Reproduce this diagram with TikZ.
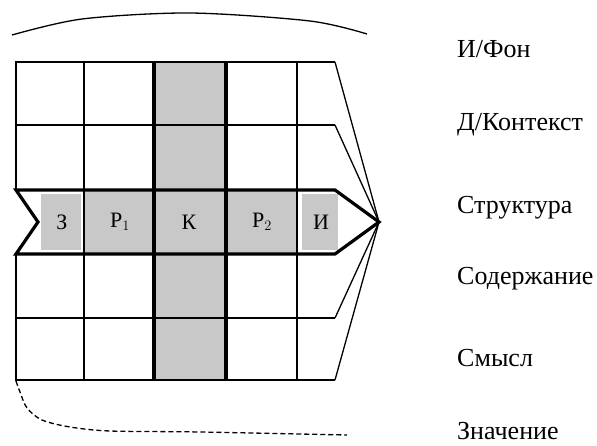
\documentclass[tikz,border=0pt]{standalone}
\usepackage{fontspec}
\setmainfont{Liberation Serif}
\newfontfamily\levelfont{Liberation Serif}
\usetikzlibrary{positioning}
\definecolor{cellgray}{RGB}{200,200,200}
\tikzstyle{grid line} = [line width=1.3pt]
\tikzstyle{bold line} = [line width=3.2pt, line join=miter]
\tikzstyle{level} = [anchor=base west, inner sep=0pt, font=\levelfont\fontsize{26}{30}\selectfont]
\tikzstyle{cell} = [inner sep=0pt, font=\levelfont\fontsize{22}{26}\selectfont]

\begin{document}
\begin{tikzpicture}[x=1pt,y=-1pt]
                    \useasboundingbox (0,0) rectangle (597,446);
                    \coordinate (apex) at (379,222);
                    \fill[cellgray] (154,62) rectangle (226,380);
                    \fill[cellgray] (84,190) rectangle (297,254);
                    \fill[cellgray] (41,194) rectangle (81,250);
                    \fill[cellgray] (302,194) rectangle (338,250);
                    \draw[grid line] (16,190) -- (16,62) -- (335,62) (16,125) -- (335,125)
                        (16,254) -- (16,380) -- (335,380) (16,318) -- (335,318)
                        (84,62) -- (84,380) (297,62) -- (297,380);
                    \foreach \y/\name in {62/a,125/b,318/c,380/d}{
                        \coordinate (\name) at (335,\y);
                        \draw[grid line] (\name) -- (apex);
                    }
                    \draw[bold line] (154,62) -- (154,380) (226,62) -- (226,380);
                    \draw[bold line] (apex) -- (335,190) -- (16,190) -- (38,222) -- (16,254) -- (335,254) -- cycle;
                    \draw[grid line] plot[smooth] coordinates {(12,35) (82,19) (190,13) (310,21) (367,34)};
                    \draw[grid line, dash pattern=on 5pt off 3pt] plot[smooth]
                        coordinates {(16,381) (20,392) (27,408) (42,420) (70,427) (110,431) (200,432) (347,435)};

                    \node[cell] (z) at (62,222) {З};
                    \node[cell] (r1) at (120,222) {Р$_1$};
                    \node[cell] (k) at (189,222) {К};
                    \node[cell] (r2) at (262,222) {Р$_2$};
                    \node[cell] (i) at (321,222) {И};

                    \node[level] (fon) at (457,58) {И/Фон};
                    \node[level] (kontekst) at (457,131) {Д/Контекст};
                    \node[level] (struktura) at (457,214) {Структура};
                    \node[level] (soderzhanie) at (457,285) {Содержание};
                    \node[level] (smysl) at (457,366) {Смысл};
                    \node[level] (znachenie) at (457,439) {Значение};
                \end{tikzpicture}
\end{document}
